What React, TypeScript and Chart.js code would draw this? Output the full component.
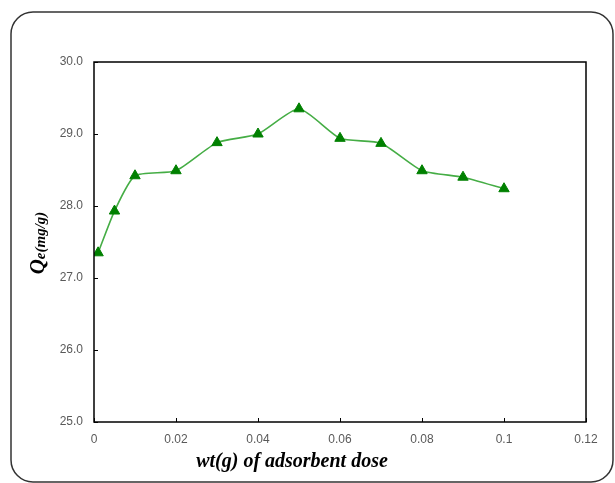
import React, { useEffect, useRef } from "react";
import { Chart, registerables } from "chart.js";

Chart.register(...registerables);

const doseValues = [0.001, 0.005, 0.01, 0.02, 0.03, 0.04, 0.05, 0.06, 0.07, 0.08, 0.09, 0.1];
const qeValues = [27.35, 27.93, 28.42, 28.49, 28.88, 29.0, 29.35, 28.94, 28.87, 28.49, 28.4, 28.24];
const yTicks = { min: 25, max: 30, step: 1 };
const xTicks = { min: 0, max: 0.12, step: 0.02 };
const xTitle = "wt(g) of adsorbent dose";
const yTitleMain = "Q";
const yTitleSub = "e(mg/g)";

const W = 615;
const H = 483;

const decor = {
  id: "decor",
  afterDraw(chart: any) {
    const ctx = chart.ctx as CanvasRenderingContext2D;
    const a = chart.chartArea;
    const xs = chart.scales.x;
    const ys = chart.scales.y;
    ctx.save();
    // outer rounded frame
    ctx.strokeStyle = "#333333";
    ctx.lineWidth = 1.5;
    ctx.beginPath();
    (ctx as any).roundRect(11, 12, 602, 470, 22);
    ctx.stroke();
    // plot border
    ctx.strokeStyle = "#000000";
    ctx.lineWidth = 1.5;
    ctx.strokeRect(a.left, a.top, a.right - a.left, a.bottom - a.top);
    // inward ticks
    ctx.lineWidth = 1;
    ctx.beginPath();
    for (let v = yTicks.min; v <= yTicks.max + 1e-9; v += yTicks.step) {
      const py = Math.round(ys.getPixelForValue(v)) + 0.5;
      ctx.moveTo(a.left, py);
      ctx.lineTo(a.left + 4, py);
    }
    for (let i = 0; i <= Math.round((xTicks.max - xTicks.min) / xTicks.step); i++) {
      const v = xTicks.min + i * xTicks.step;
      const px = Math.round(xs.getPixelForValue(v)) + 0.5;
      ctx.moveTo(px, a.bottom);
      ctx.lineTo(px, a.bottom - 4);
    }
    ctx.stroke();
    // x title
    ctx.fillStyle = "#000000";
    ctx.font = "bold italic 20px 'Liberation Serif', 'Times New Roman', serif";
    ctx.textAlign = "center";
    ctx.textBaseline = "middle";
    ctx.fillText(xTitle, 292, 462);
    // y title rotated
    ctx.translate(37, 243);
    ctx.rotate(-Math.PI / 2);
    ctx.textBaseline = "alphabetic";
    ctx.textAlign = "left";
    const fMain = "bold italic 21px 'Liberation Serif', 'Times New Roman', serif";
    const fSub = "bold italic 15px 'Liberation Serif', 'Times New Roman', serif";
    ctx.font = fMain;
    const wMain = ctx.measureText(yTitleMain).width;
    ctx.font = fSub;
    const wSub = ctx.measureText(yTitleSub).width;
    const total = wMain + wSub;
    ctx.font = fMain;
    ctx.fillText(yTitleMain, -total / 2, 7);
    ctx.font = fSub;
    ctx.fillText(yTitleSub, -total / 2 + wMain, 8);
    ctx.restore();
  },
};

export default function App() {
  const ref = useRef<HTMLCanvasElement | null>(null);
  useEffect(() => {
    if (!ref.current) return;
    const data = doseValues.map((x, i) => ({ x, y: qeValues[i] }));
    const chart = new Chart(ref.current, {
      type: "line",
      data: {
        datasets: [
          {
            data,
            borderColor: "#45ad45",
            borderWidth: 1.6,
            backgroundColor: "#008000",
            pointStyle: "triangle",
            pointRadius: 6,
            pointBorderColor: "#008000",
            pointBackgroundColor: "#008000",
            pointBorderWidth: 1,
            tension: 0.2,
            fill: false,
          },
        ],
      },
      options: {
        responsive: false,
        animation: false,
        devicePixelRatio: 1,
        layout: { padding: { top: 62, right: 29, left: 0, bottom: 0 } },
        plugins: { legend: { display: false }, tooltip: { enabled: false }, title: { display: false } },
        scales: {
          x: {
            type: "linear",
            min: xTicks.min,
            max: xTicks.max,
            grid: { display: false },
            border: { display: false },
            ticks: {
              stepSize: xTicks.step,
              padding: 2,
              color: "#595959",
              font: { family: "'Liberation Sans', Arial, sans-serif", size: 12 },
              maxRotation: 0,
              callback: (v: any) => String(Number(Number(v).toFixed(2))),
            },
            afterFit: (s: any) => {
              s.height = H - 422;
            },
          },
          y: {
            type: "linear",
            min: yTicks.min,
            max: yTicks.max,
            grid: { display: false },
            border: { display: false },
            ticks: {
              stepSize: yTicks.step,
              padding: 3,
              color: "#595959",
              font: { family: "'Liberation Sans', Arial, sans-serif", size: 12 },
              callback: (v: any) => Number(v).toFixed(1),
            },
            afterFit: (s: any) => {
              s.width = 94;
            },
          },
        },
      },
      plugins: [decor],
    });
    return () => chart.destroy();
  }, []);
  return (
    <div style={{ position: "fixed", left: 0, top: 0, width: W, height: H, background: "#fff" }}>
      <canvas ref={ref} width={W} height={H} style={{ width: W, height: H, display: "block" }} />
    </div>
  );
}
